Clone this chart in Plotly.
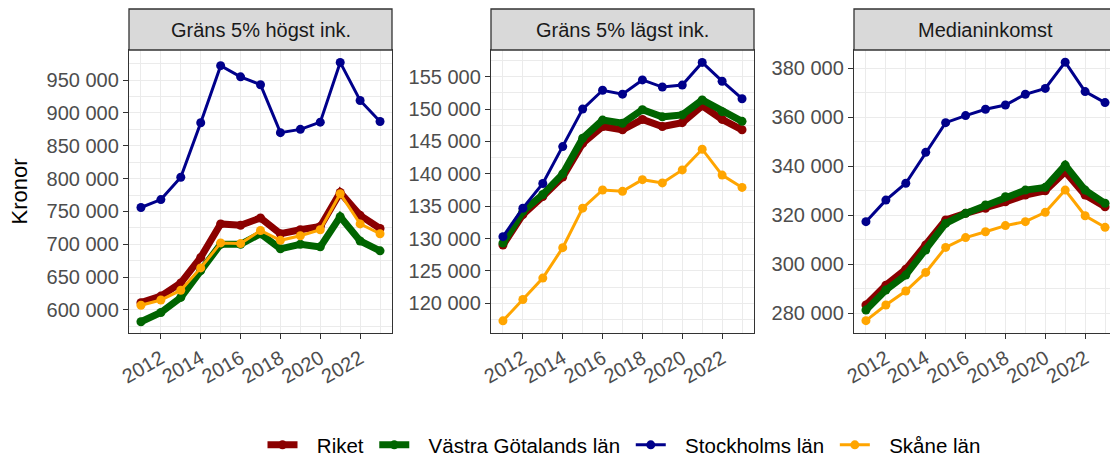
import plotly.graph_objects as go

years = list(range(2011, 2024))

panel_titles = ["Gräns 5% högst ink.", "Gräns 5% lägst ink.", "Medianinkomst"]
region_names = ["Riket", "Västra Götalands län", "Stockholms län", "Skåne län"]

# Gräns 5% högst ink.
riket_hogst = [611000, 621000, 641000, 680000, 731000, 729000, 740000, 716000, 722000, 727000, 779000, 744000, 724000]
vg_hogst = [582000, 596000, 619000, 660000, 700000, 700000, 716000, 693000, 700000, 696000, 742000, 705000, 690000]
sthlm_hogst = [756000, 768000, 802000, 885000, 972000, 955000, 943000, 870000, 875000, 886000, 977000, 919000, 887000]
skane_hogst = [607000, 615000, 630000, 664000, 702000, 701000, 721000, 706000, 713000, 722000, 777000, 731000, 716000]

# Gräns 5% lägst ink.
riket_lagst = [129000, 133700, 136500, 139500, 144700, 147300, 146800, 148400, 147300, 147900, 150500, 148400, 146800]
vg_lagst = [129300, 134200, 136800, 140000, 145500, 148300, 147800, 149900, 148800, 149100, 151400, 149600, 148100]
sthlm_lagst = [130300, 134700, 138500, 144200, 150000, 152900, 152300, 154500, 153400, 153700, 157200, 154300, 151600]
skane_lagst = [117300, 120600, 123900, 128600, 134700, 137500, 137300, 139100, 138600, 140600, 143800, 139800, 137900]

# Medianinkomst
riket_median = [283400, 291500, 298000, 307900, 318100, 320800, 322900, 325500, 328300, 330000, 337800, 328300, 323500]
vg_median = [281300, 289500, 295600, 305800, 316700, 320800, 324200, 327600, 330300, 331400, 340500, 330300, 324900]
sthlm_median = [317400, 326200, 333100, 345700, 357800, 360700, 363300, 365000, 369400, 371800, 382500, 370500, 366000]
skane_median = [277000, 283400, 289100, 296700, 306900, 310900, 313300, 315800, 317400, 321200, 330300, 319800, 315100]

panels = [
    [riket_hogst, vg_hogst, sthlm_hogst, skane_hogst],
    [riket_lagst, vg_lagst, sthlm_lagst, skane_lagst],
    [riket_median, vg_median, sthlm_median, skane_median],
]

# color, line width, marker size per region
styles = [
    ("#8B0000", 7, 9),
    ("#006400", 7, 9),
    ("#00008B", 3, 9),
    ("#FFA500", 3, 9),
]

W, H = 1110, 456
FONT = "Liberation Sans, Arial, sans-serif"
PAD_L = "\u2002\u2009"  # gap between legend key and label
PAD_R = "\u00a0"

# panel areas in pixels (the last panel runs past the right edge)
x_px = [(129, 392), (491, 754), (854, 1110)]
top_px, bot_px, strip_top = 50, 333, 9
px_per_year = 263 / 13.2
x_ranges = [[2010.4, 2023.6], [2010.4, 2023.6], [2010.4, 2010.4 + 256 / px_per_year]]
y_ranges = [[564800, 995900], [115420, 159120], [271960, 387470]]
y_dticks = [50000, 5000, 20000]

fig = go.Figure()

for p, series in enumerate(panels):
    suffix = "" if p == 0 else str(p + 1)
    for i, vals in enumerate(series):
        color, lw, ms = styles[i]
        fig.add_trace(go.Scatter(
            x=years, y=vals,
            mode="lines+markers",
            name=PAD_L + region_names[i] + PAD_R,
            legendgroup=region_names[i],
            showlegend=(p == 0),
            line=dict(color=color, width=lw),
            marker=dict(color=color, size=ms),
            xaxis="x" + suffix, yaxis="y" + suffix,
        ))

y0 = (H - bot_px) / H
y1 = (H - top_px) / H
ys = (H - strip_top) / H

for p in range(3):
    suffix = "" if p == 0 else str(p + 1)
    dom = [x_px[p][0] / W, x_px[p][1] / W]
    fig.update_layout({
        "xaxis" + suffix: dict(
            domain=dom, range=x_ranges[p], anchor="y" + suffix,
            tick0=2012, dtick=2, tickangle=-30,
            ticks="outside", ticklen=5, tickwidth=1.3, tickcolor="#333333",
            showline=True, mirror=True, linecolor="#333333", linewidth=1.3,
            showgrid=True, gridcolor="#EBEBEB", gridwidth=1.4,
            minor=dict(dtick=1, tick0=2011, showgrid=True, gridcolor="#EBEBEB", gridwidth=0.7),
            zeroline=False,
            tickfont=dict(size=20, color="#4D4D4D", family=FONT),
        ),
        "yaxis" + suffix: dict(
            domain=[y0, y1], range=y_ranges[p], anchor="x" + suffix,
            dtick=y_dticks[p], tickformat=",d",
            ticks="outside", ticklen=5, tickwidth=1.3, tickcolor="#333333",
            showline=True, mirror=(p < 2), linecolor="#333333", linewidth=1.3,
            showgrid=True, gridcolor="#EBEBEB", gridwidth=1.4,
            minor=dict(dtick=y_dticks[p] / 2, showgrid=True, gridcolor="#EBEBEB", gridwidth=0.7),
            zeroline=False,
            tickfont=dict(size=20, color="#4D4D4D", family=FONT),
        ),
    })
    # facet strip
    x1 = dom[1] if p < 2 else 1.02
    fig.add_shape(type="rect", xref="paper", yref="paper",
                  x0=dom[0], x1=x1, y0=y1, y1=ys,
                  fillcolor="#D9D9D9", line=dict(color="#333333", width=1.3))
    centre = (x_px[p][0] + (x_px[p][1] if p < 2 else 1116)) / 2 / W
    fig.add_annotation(xref="paper", yref="paper",
                       x=centre, y=(y1 + ys) / 2,
                       xanchor="center", yanchor="middle",
                       text=panel_titles[p], showarrow=False,
                       font=dict(size=20, color="#1A1A1A", family=FONT))

fig.add_annotation(xref="paper", yref="paper", x=19 / W, y=(y0 + y1) / 2,
                   xanchor="center", yanchor="middle",
                   text="Kronor", textangle=-90, showarrow=False,
                   font=dict(size=22, color="black", family=FONT))

fig.update_layout(
    width=W, height=H,
    margin=dict(l=0, r=0, t=0, b=0, autoexpand=False),
    paper_bgcolor="white", plot_bgcolor="white",
    separators=", ",
    font=dict(family=FONT),
    legend=dict(orientation="h", x=627 / W, xanchor="center",
                y=(H - 445) / H, yanchor="middle",
                font=dict(size=20.5, color="black", family=FONT),
                itemwidth=30),
)

fig.write_html("out.html", config={"displayModeBar": False},
               post_script="document.body.style.margin='0';document.body.style.overflow='hidden';")
